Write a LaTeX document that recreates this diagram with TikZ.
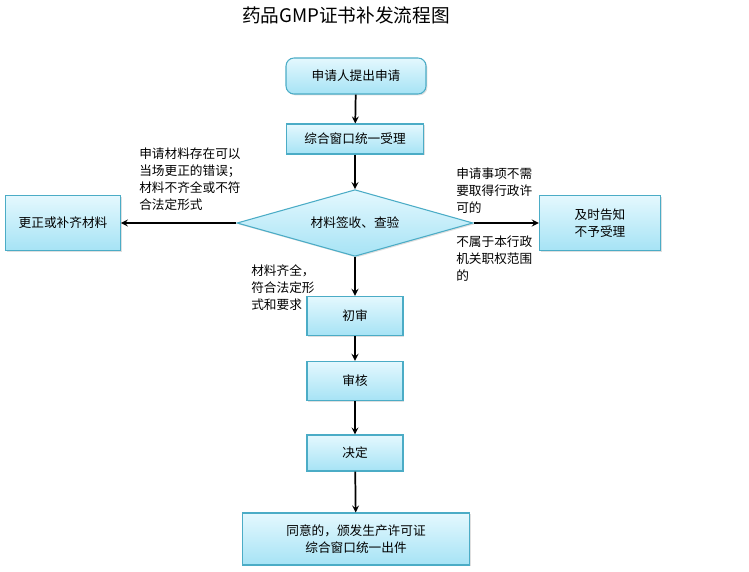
\documentclass[tikz,border=0pt]{standalone}
\usepackage{fontspec}
\setmainfont{Noto Sans CJK SC}
\usetikzlibrary{shapes.geometric,shadows}

\definecolor{boxline}{HTML}{4BACC6}
\definecolor{boxtop}{HTML}{E4F8FE}
\definecolor{boxbot}{HTML}{A6E3F5}

\begin{document}
\begin{tikzpicture}[>=stealth, x=0.75pt, y=-0.75pt,
	font=\fontsize{9.5}{12.75}\selectfont,
	box/.style={draw=boxline, line width=0.8pt, rectangle, top color=boxtop, bottom color=boxbot, align=center,
		drop shadow={opacity=0.25, shadow xshift=1pt, shadow yshift=-1pt}},
	note/.style={anchor=north west, inner sep=0pt, align=left},
	flow/.style={->, line width=1.3pt}]

	\useasboundingbox (0,0) rectangle (749,571);

	\node[font=\fontsize{14}{16}\selectfont] (Title) at (346,15) {药品GMP证书补发流程图};

	\node[box, rounded corners=6pt, minimum height=27pt, minimum width=105pt] (Apply) at (356,76) {申请人提出申请};
	\node[box, minimum height=22.5pt, minimum width=103pt] (Accept) at (355,139) {综合窗口统一受理};
	\node[box, diamond, aspect=3.6, inner sep=0pt, minimum width=177pt, minimum height=50pt] (Check) at (355,223) {材料签收、查验};
	\node[box, minimum height=41pt, minimum width=86pt] (Fix) at (63,223) {更正或补齐材料};
	\node[box, minimum height=41pt, minimum width=91pt] (Reject) at (600,223) {及时告知\\不予受理};
	\node[box, minimum height=29.5pt, minimum width=72pt] (First) at (355,316) {初审};
	\node[box, minimum height=29.5pt, minimum width=72pt] (Review) at (355,381) {审核};
	\node[box, minimum height=27pt, minimum width=72pt] (Decide) at (355,453) {决定};
	\node[box, minimum height=39pt, minimum width=170pt] (Issue) at (356,539) {同意的，颁发生产许可证\\综合窗口统一出件};

	% condition texts
	\node[note] (FixNote) at (139,148) {申请材料存在可以\\当场更正的错误；\\材料不齐全或不符\\合法定形式};
	\node[note] (RejectNoteA) at (456,168) {申请事项不需\\要取得行政许\\可的};
	\node[note] (RejectNoteB) at (456,236) {不属于本行政\\机关职权范围\\的};
	\node[note] (OkNote) at (251,264) {材料齐全，\\符合法定形\\式和要求};

	\draw[flow] (Apply) -- (Accept);
	\draw[flow] (Accept) -- (Check);
	\draw[flow] (Check.west) -- (Fix.east);
	\draw[flow] (Check.east) -- (Reject.west);
	\draw[flow] (Check.south) -- (First.north);
	\draw[flow] (First) -- (Review);
	\draw[flow] (Review) -- (Decide);
	\draw[flow] (Decide) -- (Issue);

\end{tikzpicture}
\end{document}
